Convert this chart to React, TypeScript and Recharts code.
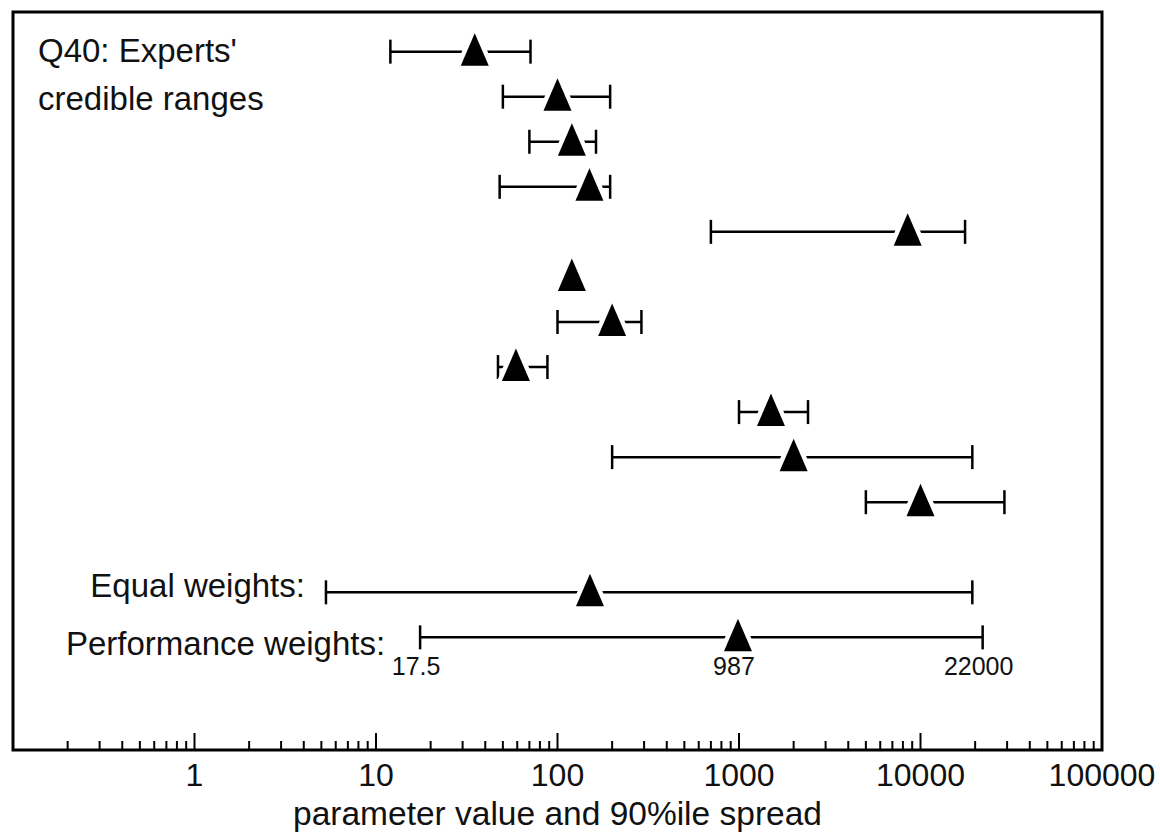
import React from 'react';
import {
  ScatterChart,
  Scatter,
  XAxis,
  YAxis,
  ErrorBar,
  ReferenceArea,
  Customized,
} from 'recharts';

// Expert rows (top to bottom): 5%, median and 95% estimates
const EXPERT_ROWS = [1, 2, 3, 4, 5, 6, 7, 8, 9, 10, 11];
const EXPERT_LOW = [12, 50, 70, 48, 700, 112, 100, 47, 1000, 200, 5000];
const EXPERT_MID = [35, 100, 120, 150, 8500, 120, 200, 59, 1500, 2000, 10000];
const EXPERT_HIGH = [71, 195, 163, 195, 17600, 128, 290, 88, 2400, 19300, 29000];

// Combined decision makers
const DM_NAMES = ['Equal weights:', 'Performance weights:'];
const DM_ROWS = [13, 14];
const DM_LOW = [5.3, 17.5];
const DM_MID = [151, 987];
const DM_HIGH = [19300, 22000];
const DM_LABEL_DX = [21, 35];
const DM_LABEL_DY = [5, 18];

// Values printed under the performance-weights range
const PERF_VALUE_LABELS = ['17.5', '987', '22000'];

const MAJOR_TICKS = [0.1, 1, 10, 100, 1000, 10000, 100000];
const MAJOR_LABELS = ['', '1', '10', '100', '1000', '10000', '100000'];
const MINOR_STEPS = [2, 3, 4, 5, 6, 7, 8, 9];

const FONT = '"Liberation Sans", Arial, Helvetica, sans-serif';

const ticks: number[] = [];
MAJOR_TICKS.forEach((m, i) => {
  ticks.push(m);
  if (i < MAJOR_TICKS.length - 1) MINOR_STEPS.forEach((s) => ticks.push(m * s));
});

const expertData = EXPERT_ROWS.map((row, i) => ({
  x: EXPERT_MID[i],
  y: row,
  err: [EXPERT_MID[i] - EXPERT_LOW[i], EXPERT_HIGH[i] - EXPERT_MID[i]],
}));

const dmData = DM_ROWS.map((row, i) => ({
  x: DM_MID[i],
  y: row,
  err: [DM_MID[i] - DM_LOW[i], DM_HIGH[i] - DM_MID[i]],
}));

const dmNameData = DM_ROWS.map((row, i) => ({
  x: DM_LOW[i],
  y: row,
  text: DM_NAMES[i],
  dx: DM_LABEL_DX[i],
  dy: DM_LABEL_DY[i],
}));

const perfValueData = [DM_LOW[1], DM_MID[1], DM_HIGH[1]].map((v, i) => ({
  x: v,
  y: DM_ROWS[1],
  text: PERF_VALUE_LABELS[i],
}));

const allRanges = [...expertData, ...dmData];

function Triangle({ cx, cy }: any) {
  const pts = `${cx},${cy - 18.5} ${cx - 14},${cy + 14} ${cx + 14},${cy + 14}`;
  return (
    <g>
      <polygon points={pts} fill="#fff" stroke="#fff" strokeWidth={9} strokeLinejoin="round" />
      <polygon points={pts} fill="#000" />
    </g>
  );
}

function NoMark() {
  return <g />;
}

function NameLabel({ cx, cy, payload }: any) {
  return (
    <text
      x={cx - payload.dx}
      y={cy + payload.dy}
      textAnchor="end"
      fontFamily={FONT}
      fontSize={33}
      fill="#111"
    >
      {payload.text}
    </text>
  );
}

function ValueLabel({ cx, cy, payload }: any) {
  return (
    <text x={cx - 4} y={cy + 38} textAnchor="middle" fontFamily={FONT} fontSize={25} fill="#111">
      {payload.text}
    </text>
  );
}

function LogTick({ x, y, payload }: any) {
  const v = payload.value;
  const lg = Math.log10(v);
  const major = Math.abs(lg - Math.round(lg)) < 1e-9;
  const idx = MAJOR_TICKS.findIndex((m) => Math.abs(m - v) < 1e-9 * m);
  const label = major && idx >= 0 ? MAJOR_LABELS[idx] : '';
  return (
    <g>
      <line x1={x} x2={x} y1={y} y2={y - (major ? 17 : 9)} stroke="#000" strokeWidth={2} />
      {label && (
        <text x={x} y={y + 36} textAnchor="middle" fontFamily={FONT} fontSize={32} fill="#111">
          {label}
        </text>
      )}
    </g>
  );
}

function Title() {
  return (
    <g fontFamily={FONT} fontSize={33} fill="#111">
      <text x={38} y={62}>Q40: Experts'</text>
      <text x={38} y={110}>credible ranges</text>
    </g>
  );
}

export default function App() {
  return (
    <div style={{ position: 'absolute', left: 0, top: 0, background: '#fff' }}>
      <ScatterChart
        width={1160}
        height={840}
        margin={{ top: 12, right: 58, bottom: 0, left: 13 }}
      >
        <XAxis
          type="number"
          dataKey="x"
          scale="log"
          domain={[0.1, 100000]}
          allowDataOverflow
          ticks={ticks}
          interval={0}
          tick={<LogTick />}
          tickLine={false}
          axisLine={false}
          tickSize={0}
          tickMargin={0}
          height={90}
          label={{
            value: 'parameter value and 90%ile spread',
            position: 'insideBottom',
            offset: 15,
            fontFamily: FONT,
            fontSize: 33.5,
            fill: '#111',
          }}
        />
        <YAxis type="number" dataKey="y" domain={[0.12, 16.5]} reversed hide allowDataOverflow />
        <ReferenceArea
          x1={0.1}
          x2={100000}
          y1={0.12}
          y2={16.5}
          fill="none"
          fillOpacity={0}
          stroke="#000"
          strokeWidth={3}
          ifOverflow="visible"
        />
        <Scatter data={allRanges} shape={<NoMark />} isAnimationActive={false}>
          <ErrorBar
            dataKey="err"
            direction="x"
            width={12}
            stroke="#000"
            strokeWidth={2.5}
            isAnimationActive={false}
          />
        </Scatter>
        <Scatter data={allRanges} shape={<Triangle />} isAnimationActive={false} />
        <Scatter data={dmNameData} shape={<NameLabel />} isAnimationActive={false} />
        <Scatter data={perfValueData} shape={<ValueLabel />} isAnimationActive={false} />
        <Customized component={Title} />
      </ScatterChart>
    </div>
  );
}
